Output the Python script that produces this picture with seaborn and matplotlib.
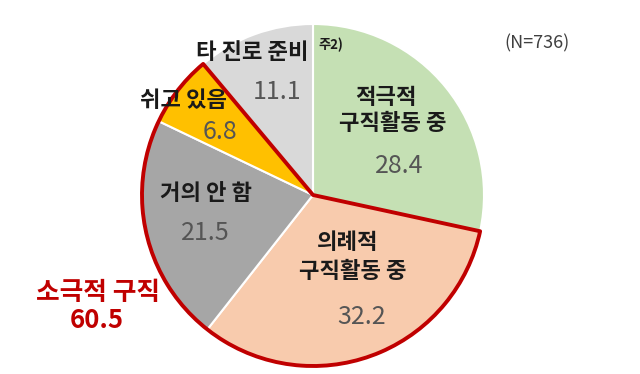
import matplotlib
matplotlib.use("Agg")
import matplotlib.pyplot as plt
from matplotlib.patches import Wedge
import seaborn as sns

categories = ["적극적\n구직활동 중", "의례적\n구직활동 중", "거의 안 함", "쉬고 있음", "타 진로 준비"]
values = [28.4, 32.2, 21.5, 6.8, 11.1]
group_label = "소극적 구직"
group_value = 60.5
n_label = "(N=736)"
note_label = "주2)"

sns.set_theme(style="white")
plt.rcParams['font.family'] = ['Noto Sans CJK KR', 'DejaVu Sans']

colors = ["#C5E0B4", "#F8CBAD", "#A6A6A6", "#FFC000", "#D9D9D9"]

W, H = 640, 374
fig = plt.figure(figsize=(W / 100, H / 100), dpi=100)
ax = fig.add_axes([0, 0, 1, 1])

cx, cy, R = 313, H - 195, 171
ax.pie(values, colors=colors, startangle=90, counterclock=False,
       center=(cx, cy), radius=R,
       wedgeprops=dict(edgecolor="white", linewidth=1.5))

# red outline around the passive group (slices 2-4)
a_start = 90 - 360 * values[0] / 100
a_end = 90 - 360 * sum(values[:4]) / 100
ax.add_patch(Wedge((cx, cy), R, a_end, a_start, fill=False,
                   edgecolor="#C00000", linewidth=2.8, joinstyle="round", zorder=5))

ax.set_xlim(0, W)
ax.set_ylim(0, H)
ax.axis("off")


def Y(p):
    return H - p


lab = dict(ha="center", va="center", fontsize=16, fontweight="bold", color="#1a1a1a", zorder=10)
num = dict(ha="center", va="center", fontsize=18, color="#555555", zorder=10)

# label line positions (pixel coords) per category
label_pos = [[(386, 97), (393, 123)],
             [(348, 242), (353, 272)],
             [(206, 193)],
             [(184, 100)],
             [(252, 52)]]
value_pos = [(399, 166), (362, 317), (205, 233), (220, 132), (277, 92)]

for cat, v, lp, vp in zip(categories, values, label_pos, value_pos):
    for line, (x, y) in zip(cat.split("\n"), lp):
        ax.text(x, Y(y), line, **lab)
    ax.text(vp[0], Y(vp[1]), f"{v}", **num)

ax.text(318, Y(45), note_label, ha="left", va="center", fontsize=9.5,
        fontweight="bold", color="#1a1a1a", zorder=10)

# group label
ax.text(98, Y(292), group_label, ha="center", va="center", fontsize=18.5,
        fontweight="bold", color="#C00000")
ax.text(97, Y(320), f"{group_value}", ha="center", va="center", fontsize=18.5,
        fontweight="bold", color="#C00000")

ax.text(537, Y(43), n_label, ha="center", va="center", fontsize=13, color="#404040")

fig.savefig("out.png", dpi=100)
